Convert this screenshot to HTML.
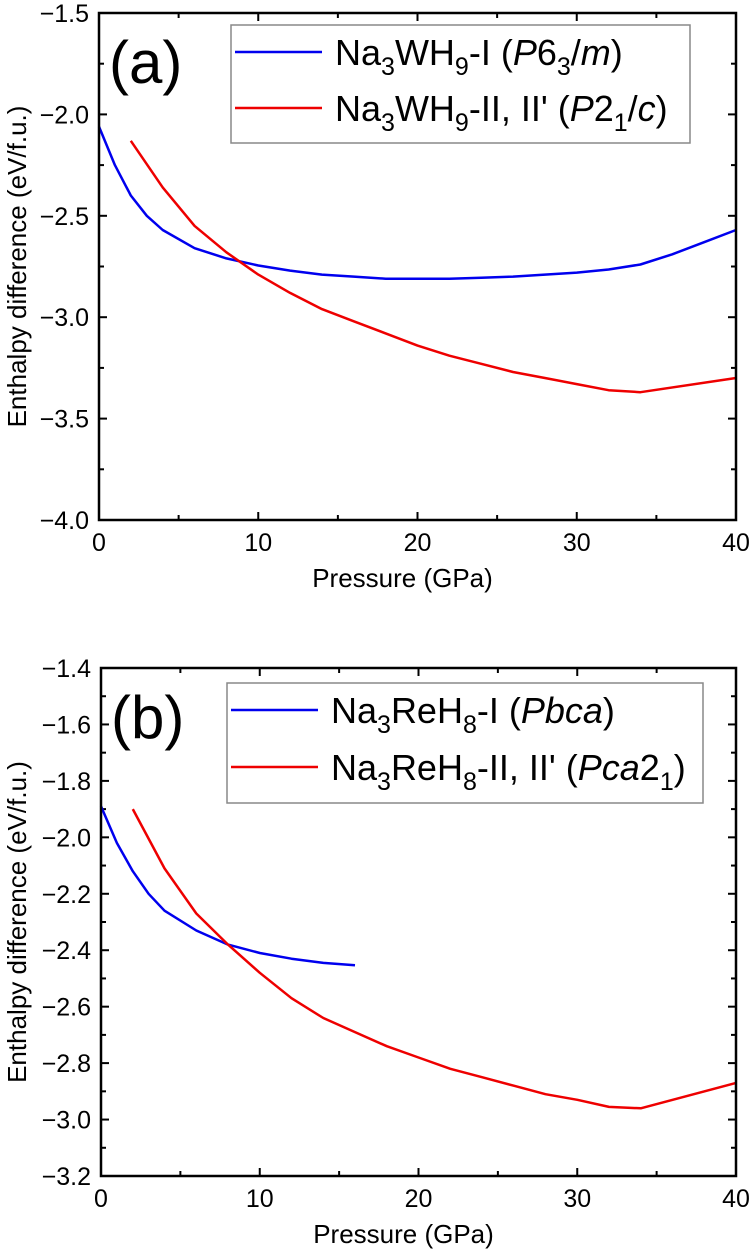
<!DOCTYPE html>
<html><head><meta charset="utf-8"><style>
body{margin:0;background:#fff;}
svg{display:block;font-family:"Liberation Sans",sans-serif;}
</style></head><body>
<svg id="fig" width="750" height="1257" viewBox="0 0 750 1257"></svg>
<script>
const aBlueX=[0,1,2,3,4,6,8,10,12,14,16,18,20,22,24,26,28,30,32,34,36,38,40];
const aBlueY=[-2.06,-2.25,-2.40,-2.50,-2.57,-2.66,-2.71,-2.745,-2.77,-2.79,-2.80,-2.81,-2.81,-2.81,-2.805,-2.80,-2.79,-2.78,-2.765,-2.74,-2.69,-2.63,-2.57];
const aRedX=[2,4,6,8,10,12,14,16,18,20,22,24,26,28,30,32,34,40];
const aRedY=[-2.13,-2.36,-2.55,-2.68,-2.79,-2.88,-2.96,-3.02,-3.08,-3.14,-3.19,-3.23,-3.27,-3.30,-3.33,-3.36,-3.37,-3.30];
const bBlueX=[0,1,2,3,4,6,8,10,12,14,16];
const bBlueY=[-1.89,-2.02,-2.12,-2.20,-2.26,-2.33,-2.38,-2.41,-2.43,-2.445,-2.453];
const bRedX=[2,4,6,8,10,12,14,16,18,20,22,24,26,28,30,32,34,40];
const bRedY=[-1.90,-2.11,-2.27,-2.38,-2.48,-2.57,-2.64,-2.69,-2.74,-2.78,-2.82,-2.85,-2.88,-2.91,-2.93,-2.955,-2.96,-2.87];
const xTicks=[0,10,20,30,40];
const aYTicks=[-1.5,-2.0,-2.5,-3.0,-3.5,-4.0];
const bYTicks=[-1.4,-1.6,-1.8,-2.0,-2.2,-2.4,-2.6,-2.8,-3.0,-3.2];

const NS="http://www.w3.org/2000/svg";
const svg=document.getElementById('fig');
function mk(tag,attrs,parent){const e=document.createElementNS(NS,tag);for(const k in attrs)e.setAttribute(k,attrs[k]);(parent||svg).appendChild(e);return e;}

function panel(p){
  const g=mk('g',{});
  
  
  const sx=v=>p.x0+(v-0)/(40-0)*(p.x1-p.x0);
  const sy=v=>p.y0+(v-p.ymax)/(p.ymin-p.ymax)*(p.y1-p.y0);
  for(let v=0;v<=40;v+=5){
    const major=v%10===0, L=major?8:5;
    mk('line',{x1:sx(v),x2:sx(v),y1:p.y1,y2:p.y1-L,stroke:'#000','stroke-width':2},g);
    mk('line',{x1:sx(v),x2:sx(v),y1:p.y0,y2:p.y0+L,stroke:'#000','stroke-width':2},g);
  }
  xTicks.forEach(v=>{const t=mk('text',{x:sx(v),y:p.y1+31,'text-anchor':'middle','font-size':25},g);t.textContent=v;
    
    });
  const nMin=Math.round((p.ymax-p.ymin)/p.minor);
  for(let i=0;i<=nMin;i++){
    const v=p.ymax-i*p.minor;const major=i%2===0, L=major?8:5;
    mk('line',{x1:p.x0,x2:p.x0+L,y1:sy(v),y2:sy(v),stroke:'#000','stroke-width':2},g);
    mk('line',{x1:p.x1,x2:p.x1-L,y1:sy(v),y2:sy(v),stroke:'#000','stroke-width':2},g);
  }
  p.yTicks.forEach(v=>{const t=mk('text',{x:p.x0-10,y:sy(v)+9,'text-anchor':'end','font-size':25},g);t.textContent='\u2212'+Math.abs(v).toFixed(1);
    
    });
  function line(xs,ys,color,name){
    const d=xs.map((x,i)=>(i?'L':'M')+sx(x).toFixed(1)+','+sy(ys[i]).toFixed(1)).join('');
    const e=mk('path',{d:d,fill:'none',stroke:color,'stroke-width':2.5,'stroke-linejoin':'round'},g);
    
    
  }
  line(p.bx,p.by,'#0000ee',p.name+'-blue-series');
  line(p.rx,p.ry,'#ee0000',p.name+'-red-series');
  mk('rect',{x:p.x0,y:p.y0,width:p.x1-p.x0,height:p.y1-p.y0,fill:'none',stroke:'#000','stroke-width':2.5},g);
  const lab=mk('text',{x:p.x0+10,y:p.y0+p.labY,'font-size':60},g);lab.textContent=p.label;
  
  
  const xt=mk('text',{x:(p.x0+p.x1)/2 - 15,y:p.y1+67,'text-anchor':'middle','font-size':26},g);xt.textContent='Pressure (GPa)';
  
  
  const cy=(p.y0+p.y1)/2;
  const yt=mk('text',{x:26,y:cy,'text-anchor':'middle','font-size':26,transform:`rotate(-90 26 ${cy})`},g);yt.textContent='Enthalpy difference (eV/f.u.)';
  
  
  const lg=mk('g',{},g);
  
  
  mk('rect',{x:p.lg.x,y:p.lg.y,width:p.lg.w,height:p.lg.h,fill:'#fff',stroke:'#888','stroke-width':1.5},lg);
  p.lg.rows.forEach(r=>{
    mk('line',{x1:p.lg.x+4,x2:p.lg.x+91,y1:r.y,y2:r.y,stroke:r.c,'stroke-width':2.5},lg);
    const t=mk('text',{x:p.lg.x+104,y:r.y+13,'font-size':36},lg);
    let shifted=false;
    r.seg.forEach(s=>{
      const a={};
      if(s[1]==='s'){a.dy=shifted?0:10;a['font-size']=25;shifted=true;}
      else{a.dy=shifted?-10:0;shifted=false;if(s[1]==='i')a['font-style']='italic';}
      const ts=mk('tspan',a,t);ts.textContent=s[0];
    });
    
    
  });
}
panel({name:'panel-a',x0:99,x1:736,y0:13,y1:520,ymax:-1.5,ymin:-4.0,minor:0.25,yTicks:aYTicks,
  bx:aBlueX,by:aBlueY,rx:aRedX,ry:aRedY,label:'(a)',labY:70,
  lg:{x:231,y:25,w:459,h:118,rows:[
    {y:52,c:'#0000ee',seg:[['Na','n'],['3','s'],['WH','n'],['9','s'],['-I (','n'],['P','i'],['6','n'],['3','s'],['/','n'],['m','i'],[')','n']]},
    {y:108,c:'#ee0000',seg:[['Na','n'],['3','s'],['WH','n'],['9','s'],["-II, II' (",'n'],['P','i'],['2','n'],['1','s'],['/','n'],['c','i'],[')','n']]}]}});
panel({name:'panel-b',x0:101,x1:736,y0:668,y1:1176,ymax:-1.4,ymin:-3.2,minor:0.1,yTicks:bYTicks,
  bx:bBlueX,by:bBlueY,rx:bRedX,ry:bRedY,label:'(b)',labY:70,
  lg:{x:227,y:683,w:476,h:120,rows:[
    {y:710,c:'#0000ee',seg:[['Na','n'],['3','s'],['ReH','n'],['8','s'],['-I (','n'],['Pbca','i'],[')','n']]},
    {y:767,c:'#ee0000',seg:[['Na','n'],['3','s'],['ReH','n'],['8','s'],["-II, II' (",'n'],['Pca','i'],['2','n'],['1','s'],[')','n']]}]}});
</script>
</body></html>
